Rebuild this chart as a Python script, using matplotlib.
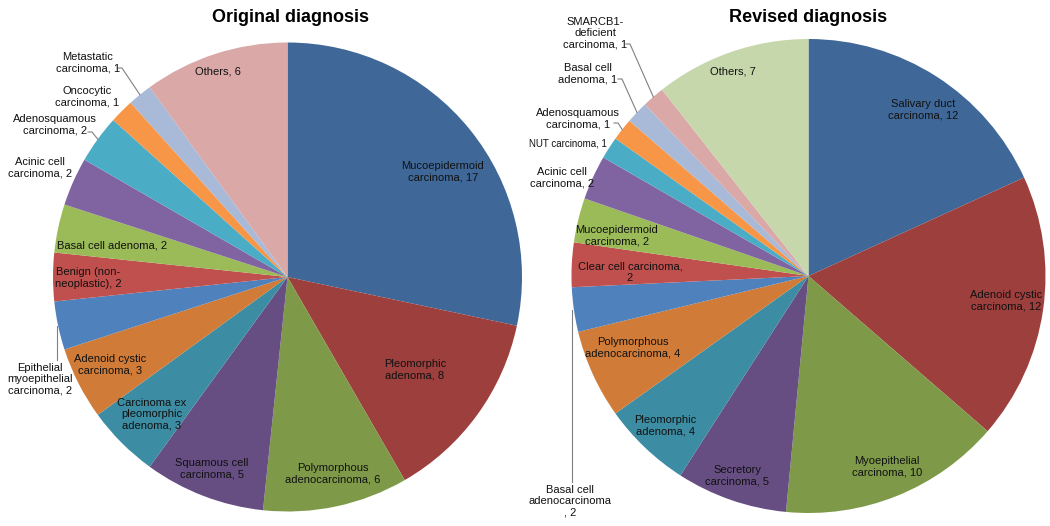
import matplotlib
matplotlib.use('Agg')
import matplotlib.pyplot as plt
import numpy as np

plt.rcParams['font.family'] = ['Liberation Sans', 'DejaVu Sans']

# ---- data ----
orig_labels = ['Mucoepidermoid\ncarcinoma, 17', 'Pleomorphic\nadenoma, 8', 'Polymorphous\nadenocarcinoma, 6',
               'Squamous cell\ncarcinoma, 5', 'Carcinoma ex\npleomorphic\nadenoma, 3', 'Adenoid cystic\ncarcinoma, 3',
               'Epithelial\nmyoepithelial\ncarcinoma, 2', 'Benign (non-\nneoplastic), 2', 'Basal cell adenoma, 2',
               'Acinic cell\ncarcinoma, 2', 'Adenosquamous\ncarcinoma, 2', 'Oncocytic\ncarcinoma, 1',
               'Metastatic\ncarcinoma, 1', 'Others, 6']
orig_values = [17, 8, 6, 5, 3, 3, 2, 2, 2, 2, 2, 1, 1, 6]

rev_labels = ['Salivary duct\ncarcinoma, 12', 'Adenoid cystic\ncarcinoma, 12', 'Myoepithelial\ncarcinoma, 10',
              'Secretory\ncarcinoma, 5', 'Pleomorphic\nadenoma, 4', 'Polymorphous\nadenocarcinoma, 4',
              'Basal cell\nadenocarcinoma\n, 2', 'Clear cell carcinoma,\n2', 'Mucoepidermoid\ncarcinoma, 2',
              'Acinic cell\ncarcinoma, 2', 'NUT carcinoma, 1', 'Adenosquamous\ncarcinoma, 1',
              'Basal cell\nadenoma, 1', 'SMARCB1-\ndeficient\ncarcinoma, 1', 'Others, 7']
rev_values = [12, 12, 10, 5, 4, 4, 2, 2, 2, 2, 1, 1, 1, 1, 7]

colors = ['#3F6898', '#9C3F3D', '#7E9A48', '#664E82', '#3C8DA3', '#D07C38',
          '#4F81BD', '#C0504D', '#9BBB59', '#8064A2', '#4BACC6', '#F79646',
          '#A9B9D8', '#D9A8A7', '#C6D7AB']

# ---- layout (image pixels, y from top) ----
H = 526
orig_center, orig_r = (287.5, 277), 234.5
rev_center, rev_r = (808.5, 276), 237

orig_pos = [(443, 172), (415, 370), (333, 474), (212, 469), (152, 414), (110, 365),
            (40, 379), (88, 278), (112, 246), (40, 168), (55, 125), (87, 97), (88, 63), (218, 72)]
# leader lines: (x, y) of the text end; x None -> straight vertical drop
orig_lead = {6: (None, 360), 10: (88, 132), 12: (118, 68)}

rev_pos = [(923, 110), (1006, 301), (887, 467), (737, 476), (665, 426), (633, 348),
           (570, 501), (630, 272), (617, 236), (562, 178), (568, 143), (578, 119),
           (588, 74), (595, 33), (733, 72)]
rev_lead = {6: (None, 482), 11: (614, 123), 12: (618, 79), 13: (626, 44)}
small = {('rev', 10)}

fig = plt.figure(figsize=(10.5, 5.26), dpi=100)
ax = fig.add_axes([0, 0, 1, 1])


def draw(values, labels, center, r, pos, lead, name):
    cx, cy = center[0], H - center[1]
    wedges, _ = ax.pie(values, colors=colors[:len(values)], startangle=90, counterclock=False,
                       center=(cx, cy), radius=r, frame=True,
                       wedgeprops=dict(linewidth=0))
    for i, (w, lab) in enumerate(zip(wedges, labels)):
        x, y = pos[i]
        fs = 7 if (name, i) in small else 8
        ax.text(x, H - y, lab, ha='center', va='center', fontsize=fs, color='#111111',
                linespacing=1.15)
        if i in lead:
            mid = np.deg2rad((w.theta1 + w.theta2) / 2)
            ex, ey = cx + r * np.cos(mid), cy + r * np.sin(mid)
            sx, sy = lead[i]
            if sx is None:
                ax.plot([ex - 1.5, ex - 1.5], [ey, H - sy], color='#808080', lw=0.8)
            else:
                ax.plot([sx, sx + 4, ex], [H - sy, H - sy, ey], color='#808080', lw=0.8)


draw(orig_values, orig_labels, orig_center, orig_r, orig_pos, orig_lead, 'orig')
draw(rev_values, rev_labels, rev_center, rev_r, rev_pos, rev_lead, 'rev')

ax.text(291, H - 17, 'Original diagnosis', ha='center', va='center', fontsize=13, fontweight='bold')
ax.text(808, H - 17, 'Revised diagnosis', ha='center', va='center', fontsize=13, fontweight='bold')

ax.set_xlim(0, 1050)
ax.set_ylim(0, H)
ax.set_aspect('equal')
ax.axis('off')

fig.savefig('out.png', dpi=100)
